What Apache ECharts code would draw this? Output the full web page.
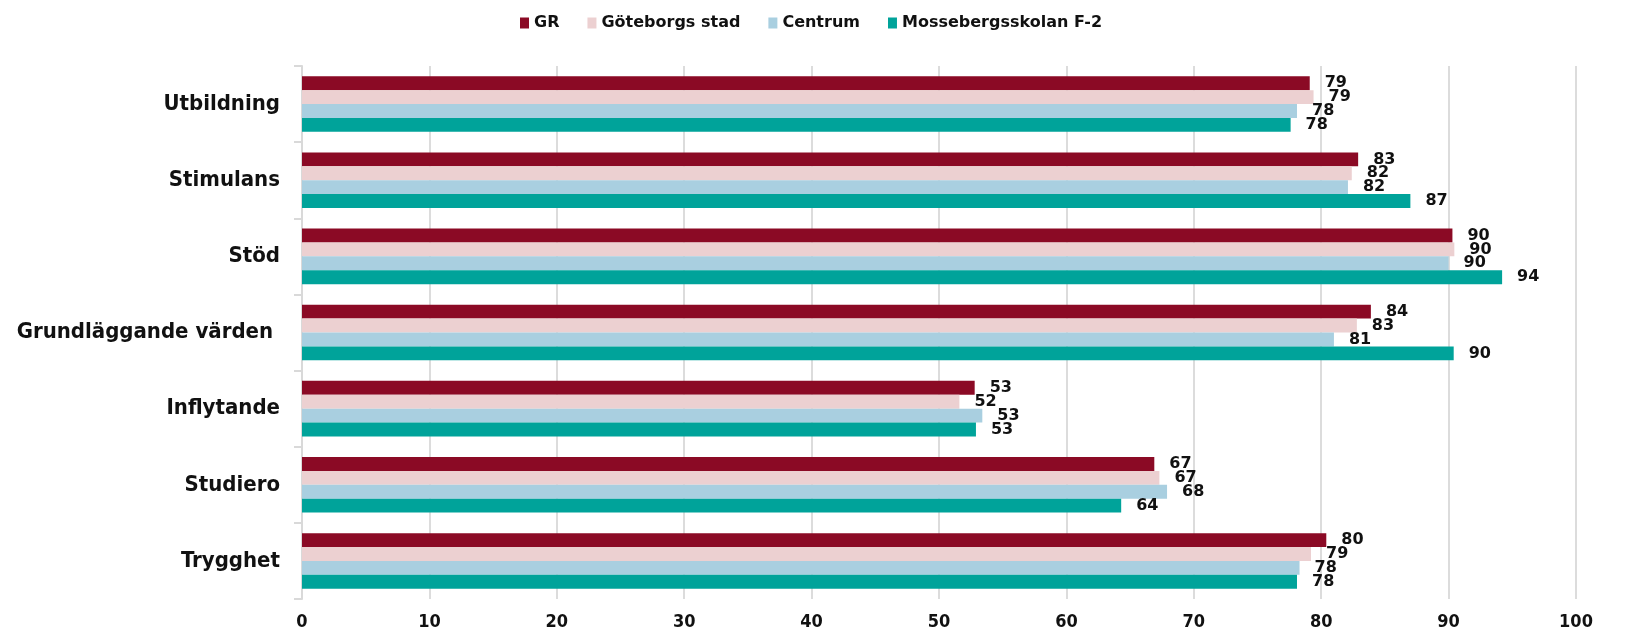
<!DOCTYPE html>
<html>
<head>
<meta charset="utf-8">
<script src="https://cdn.jsdelivr.net/npm/echarts@6/dist/echarts.min.js"></script>
<style>html,body{margin:0;padding:0;background:#fff;}#c{width:1634px;height:631px;}</style>
</head>
<body>
<div id="c"></div>
<script>
const categories = ['Utbildning', 'Stimulans', 'Stöd', 'Grundläggande värden ', 'Inflytande', 'Studiero', 'Trygghet'];
const seriesNames = ['GR', 'Göteborgs stad', 'Centrum', 'Mossebergsskolan F-2'];
const grValues = [79.1, 82.9, 90.3, 83.9, 52.8, 66.9, 80.4];
const gbgValues = [79.4, 82.4, 90.45, 82.8, 51.6, 67.3, 79.2];
const centrumValues = [78.1, 82.1, 90.0, 81.0, 53.4, 67.9, 78.3];
const mosseValues = [77.6, 87.0, 94.2, 90.4, 52.9, 64.3, 78.1];
const xTicks = [0, 10, 20, 30, 40, 50, 60, 70, 80, 90, 100];
const colors = ['#8b0a25', '#ecd0d1', '#a9cfe0', '#00a39a'];

const FONT = '"DejaVu Sans Condensed", "DejaVu Sans", sans-serif';
const FONT_W = '"DejaVu Sans", sans-serif';
const allValues = [grValues, gbgValues, centrumValues, mosseValues];

const chart = echarts.init(document.getElementById('c'), null, {renderer: 'canvas'});
chart.setOption({
  animation: false,
  backgroundColor: '#ffffff',
  color: colors,
  legend: {
    left: 515, top: 10,
    itemWidth: 9, itemHeight: 11, itemGap: 28,
    icon: 'rect',
    textStyle: {fontFamily: FONT_W, fontWeight: 'bold', fontSize: 16, color: '#111'},
    data: seriesNames
  },
  grid: {left: 302, right: 58, top: 66, bottom: 31, containLabel: false},
  xAxis: {
    type: 'value', min: xTicks[0], max: xTicks[xTicks.length - 1], interval: 10,
    axisLine: {show: false}, axisTick: {show: false},
    splitLine: {show: true, lineStyle: {color: '#dcdcdc', width: 2}},
    axisLabel: {fontFamily: FONT, fontWeight: 'bold', fontSize: 18, color: '#111', margin: 14}
  },
  yAxis: {
    type: 'category', data: categories, inverse: true,
    axisLine: {show: true, lineStyle: {color: '#d9d9d9', width: 2}},
    axisTick: {show: true, length: 8, lineStyle: {color: '#d9d9d9', width: 2}},
    axisLabel: {fontFamily: FONT, fontWeight: 'bold', fontSize: 22, color: '#111', margin: 22}
  },
  series: seriesNames.map((n, i) => ({
    name: n, type: 'bar', data: allValues[i],
    barGap: '0%', barCategoryGap: '27%',
    itemStyle: {color: colors[i]},
    label: {
      show: true, position: 'right', distance: 15,
      fontFamily: FONT_W, fontWeight: 'bold', fontSize: 16, color: '#111',
      formatter: p => Math.round(p.value)
    }
  }))
});
</script>
</body>
</html>
